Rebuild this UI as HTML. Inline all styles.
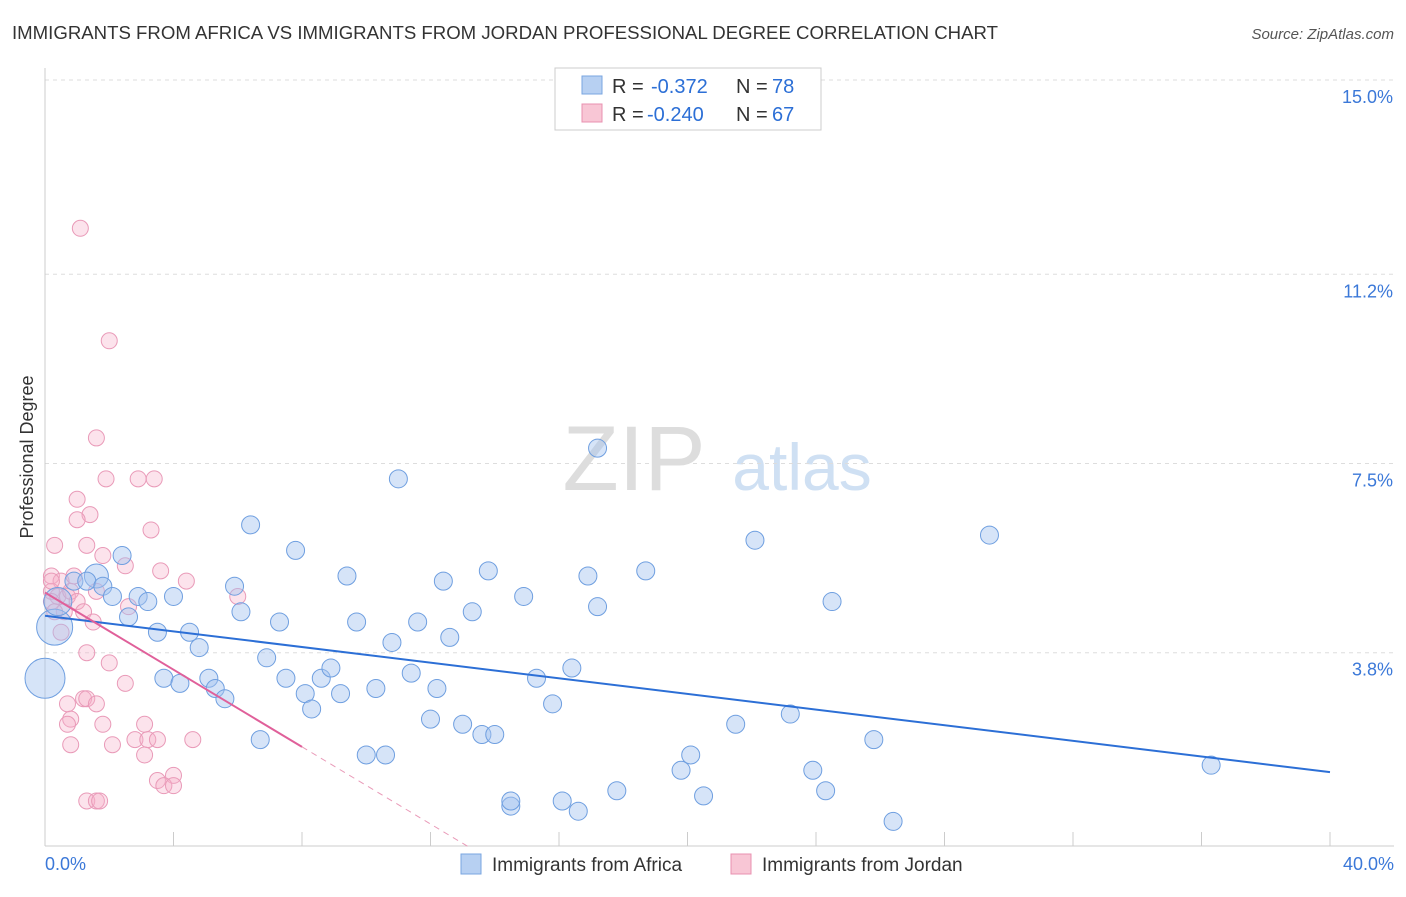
<!DOCTYPE html>
<html><head><meta charset="utf-8"><style>
body{margin:0;background:#fff;font-family:"Liberation Sans",sans-serif;}
svg text{font-family:"Liberation Sans",sans-serif;}
</style></head><body>
<svg id="chart" width="1406" height="892">
<text x="12" y="39" font-size="18" fill="#333" textLength="986" lengthAdjust="spacingAndGlyphs">IMMIGRANTS FROM AFRICA VS IMMIGRANTS FROM JORDAN PROFESSIONAL DEGREE CORRELATION CHART</text>
<text x="1394" y="39" font-size="15" fill="#555" text-anchor="end" font-style="italic">Source: ZipAtlas.com</text>
<text x="33" y="457" font-size="18" fill="#333" text-anchor="middle" transform="rotate(-90 33 457)">Professional Degree</text>
<g><text x="634" y="490" font-size="92" fill="#ddd" font-family="Liberation Serif" text-anchor="middle">ZIP</text><text x="802" y="490" font-size="66" fill="#cfe0f3" text-anchor="middle">atlas</text></g>
<g id="grid"></g><g id="axes"></g><g id="pts"></g><g id="trend"></g>
<g>
<rect x="555" y="68" width="266" height="62" fill="#fff" stroke="#ccc"/>
<rect x="582" y="76" width="20" height="18" fill="#b7d0f2" stroke="#7aa6e0"/>
<text x="612" y="93" font-size="20" fill="#333">R =</text><text x="651" y="93" font-size="20" fill="#2c6fd6">-0.372</text>
<text x="736" y="93" font-size="20" fill="#333">N =</text><text x="772" y="93" font-size="20" fill="#2c6fd6">78</text>
<rect x="582" y="104" width="20" height="18" fill="#f8c6d5" stroke="#e890b0"/>
<text x="612" y="121" font-size="20" fill="#333">R =</text><text x="647" y="121" font-size="20" fill="#2c6fd6">-0.240</text>
<text x="736" y="121" font-size="20" fill="#333">N =</text><text x="772" y="121" font-size="20" fill="#2c6fd6">67</text>
</g>
<g>
<rect x="461" y="854" width="20" height="20" fill="#b7d0f2" stroke="#7aa6e0"/>
<text x="492" y="871" font-size="19" fill="#333">Immigrants from Africa</text>
<rect x="731" y="854" width="20" height="20" fill="#f8c6d5" stroke="#e890b0"/>
<text x="762" y="871" font-size="19" fill="#333">Immigrants from Jordan</text>
</g>
</svg>
<script>
const yTicks=[15.0,11.2,7.5,3.8];
const yTickLabels=["15.0%","11.2%","7.5%","3.8%"];
const xTickLabels=["0.0%","40.0%"];
const africaX=[0.3,0.0,0.4,1.6,0.9,1.3,1.8,2.1,2.4,2.6,2.9,3.2,3.5,3.7,4.0,4.2,4.5,4.8,5.1,5.3,5.6,5.9,6.1,6.4,6.7,6.9,7.3,7.5,7.8,8.1,8.3,8.6,8.9,9.2,9.4,9.7,10.0,10.3,10.6,10.8,11.0,11.4,11.6,12.0,12.2,12.4,12.6,13.0,13.3,13.6,13.8,14.0,14.5,14.5,14.9,15.3,15.8,16.1,16.4,16.6,16.9,17.2,17.2,17.8,18.7,19.8,20.1,20.5,21.5,22.1,23.2,23.9,24.3,24.5,25.8,26.4,29.4,36.3];
const africaY=[4.3,3.3,4.8,5.3,5.2,5.2,5.1,4.9,5.7,4.5,4.9,4.8,4.2,3.3,4.9,3.2,4.2,3.9,3.3,3.1,2.9,5.1,4.6,6.3,2.1,3.7,4.4,3.3,5.8,3.0,2.7,3.3,3.5,3.0,5.3,4.4,1.8,3.1,1.8,4.0,7.2,3.4,4.4,2.5,3.1,5.2,4.1,2.4,4.6,2.2,5.4,2.2,0.8,0.9,4.9,3.3,2.8,0.9,3.5,0.7,5.3,4.7,7.8,1.1,5.4,1.5,1.8,1.0,2.4,6.0,2.6,1.5,1.1,4.8,2.1,0.5,6.1,1.6];
const africaR=[18,20,14,12,9,9,9,9,9,9,9,9,9,9,9,9,9,9,9,9,9,9,9,9,9,9,9,9,9,9,9,9,9,9,9,9,9,9,9,9,9,9,9,9,9,9,9,9,9,9,9,9,9,9,9,9,9,9,9,9,9,9,9,9,9,9,9,9,9,9,9,9,9,9,9,9,9,9];
const jordanX=[1.1,2.0,1.6,1.9,2.9,3.4,1.0,1.4,1.0,3.3,0.3,1.3,1.8,2.5,3.6,4.4,0.2,0.5,0.9,1.6,0.2,0.4,0.7,0.8,1.0,0.2,0.6,1.2,1.5,2.6,6.0,0.5,1.3,2.0,2.5,1.2,1.3,0.7,1.6,0.8,0.7,1.8,3.1,0.8,2.1,2.8,3.2,3.5,4.6,3.1,4.0,3.5,3.7,4.0,1.3,1.6,1.7,0.2,0.3];
const jordanY=[12.1,9.9,8.0,7.2,7.2,7.2,6.8,6.5,6.4,6.2,5.9,5.9,5.7,5.5,5.4,5.2,5.3,5.2,5.3,5.0,5.0,4.9,4.9,5.0,4.8,4.8,4.6,4.6,4.4,4.7,4.9,4.2,3.8,3.6,3.2,2.9,2.9,2.8,2.8,2.5,2.4,2.4,2.4,2.0,2.0,2.1,2.1,2.1,2.1,1.8,1.4,1.3,1.2,1.2,0.9,0.9,0.9,5.2,4.6];
const NS='http://www.w3.org/2000/svg';
const X0=45,X1=1330,Y0=847,YP=767/15;
function xs(v){return X0+v/40*(X1-X0);}
function ys(v){return Y0-v*YP;}
function mk(t,a,p){const e=document.createElementNS(NS,t);for(const k in a)e.setAttribute(k,a[k]);p.appendChild(e);return e;}
const grid=document.getElementById('grid'),axes=document.getElementById('axes'),pts=document.getElementById('pts'),tr=document.getElementById('trend');
yTicks.forEach((v,i)=>{
 const l=mk('line',{x1:45,x2:1394,y1:ys(v),y2:ys(v),stroke:'#ddd','stroke-dasharray':'4,4'},grid);
 
 
 const t=mk('text',{x:1393,y:ys(v)+23,'font-size':18,fill:'#3b78d8','text-anchor':'end'},axes);t.textContent=yTickLabels[i];
 
 
});
mk('line',{x1:45,x2:45,y1:68,y2:846,stroke:'#ccc'},axes);
mk('line',{x1:45,x2:1394,y1:846,y2:846,stroke:'#ccc'},axes);
for(let i=0;i<=10;i++){const x=xs(i*4);mk('line',{x1:x,x2:x,y1:832,y2:846,stroke:'#ccc'},axes);}
[[0,'start',45],[1,'end',1394]].forEach(([i,a,x])=>{const t=mk('text',{x:x,y:870,'font-size':18,fill:'#3b78d8','text-anchor':a},axes);t.textContent=xTickLabels[i];
 
 });
jordanX.forEach((v,i)=>{const c=mk('circle',{cx:xs(v),cy:ys(jordanY[i]),r:8,fill:'rgba(245,175,200,0.35)',stroke:'#e99ab8','stroke-width':1},pts);
 
 });
africaX.forEach((v,i)=>{const c=mk('circle',{cx:xs(v),cy:ys(africaY[i]),r:africaR[i],fill:'rgba(165,195,240,0.45)',stroke:'#6f9fe0','stroke-width':1},pts);
 
 });
function fit(X,Y){const n=X.length;let mx=0,my=0;X.forEach((v,i)=>{mx+=v;my+=Y[i]});mx/=n;my/=n;let sxy=0,sxx=0;X.forEach((v,i)=>{sxy+=(v-mx)*(Y[i]-my);sxx+=(v-mx)*(v-mx)});const b=sxy/sxx;return [my-b*mx,b];}
const fa=fit(africaX,africaY);
let l=mk('line',{x1:xs(0),y1:ys(fa[0]),x2:xs(40),y2:ys(fa[0]+fa[1]*40),stroke:'#2c6fd6','stroke-width':2},tr);


const fj=fit(jordanX,jordanY);
const xe=Math.min(40,-fj[0]/fj[1]);
l=mk('line',{x1:xs(0),y1:ys(fj[0]),x2:xs(8),y2:ys(fj[0]+fj[1]*8),stroke:'#e0609a','stroke-width':2},tr);


l=mk('line',{x1:xs(8),y1:ys(fj[0]+fj[1]*8),x2:xs(xe),y2:ys(fj[0]+fj[1]*xe),stroke:'#e99ab8','stroke-width':1,'stroke-dasharray':'6,5'},tr);


</script>
</body></html>
